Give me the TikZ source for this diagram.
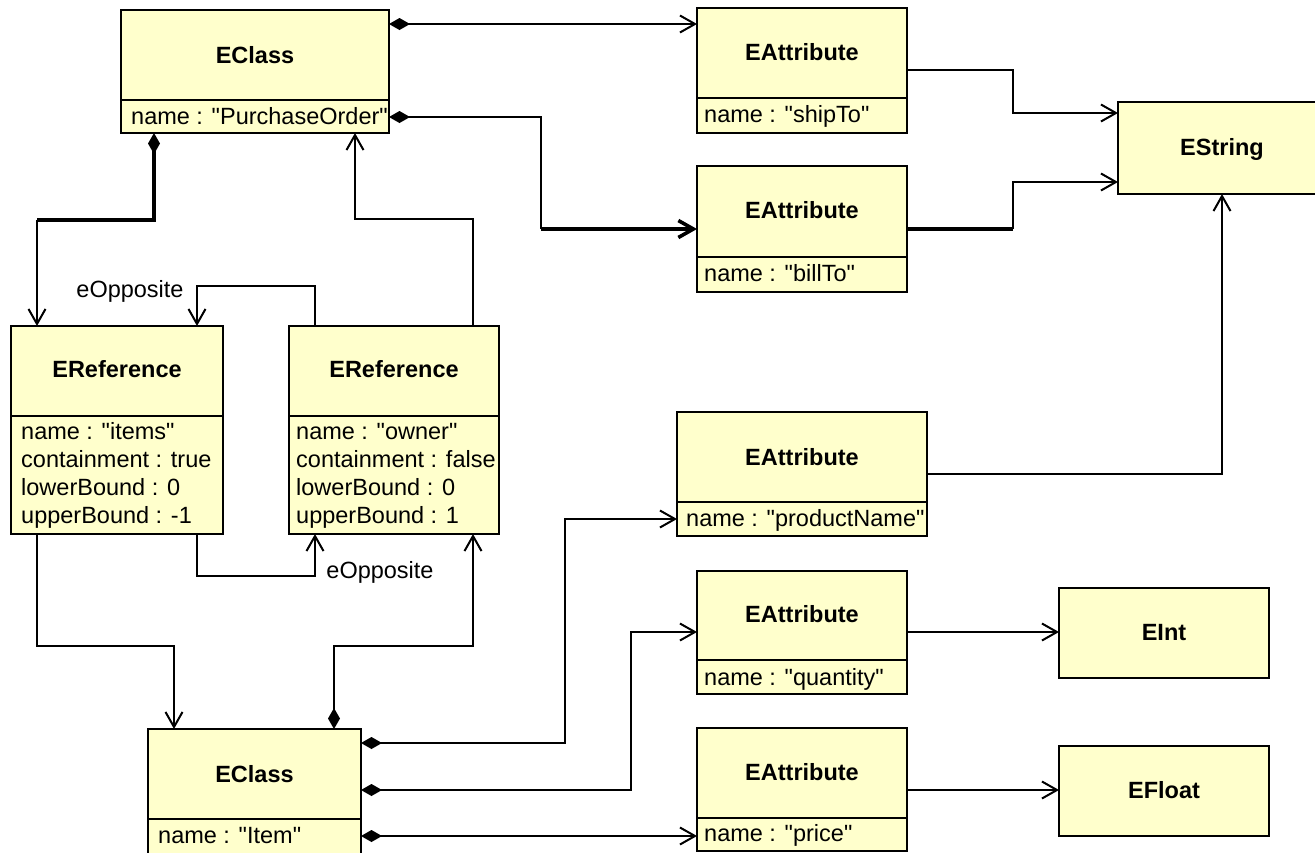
\documentclass[tikz,border=0pt]{standalone}
\usepackage{fontspec}
\setmainfont{Liberation Sans}[Ligatures=TeXOff]
\usetikzlibrary{arrows.meta}
\definecolor{boxfill}{RGB}{255,255,204}
\newcommand\ubox[5]{\node[box, minimum width={#4-#2}, minimum height={#5-#3}] (#1) at (#2,#3) {};}
\newcommand\udiv[2]{\draw[boxline] (#1.west |- 0,#2) -- (#1.east |- 0,#2);}
\begin{document}
\begin{tikzpicture}[x=1pt,y=-1pt,
  box/.style={draw, fill=boxfill, line width=2pt, inner sep=0pt, outer sep=0pt, anchor=north west, rectangle},
  boxline/.style={line width=2pt},
  ttl/.style={font=\bfseries\fontsize{23.5}{28}\selectfont, anchor=base, inner sep=0pt},
  attr/.style={font=\fontsize{23.5}{28}\selectfont, anchor=base west, inner sep=0pt},
  lbl/.style={font=\fontsize{23.5}{28}\selectfont, anchor=base, inner sep=0pt},
  conn/.style={line width=2pt},
  thickconn/.style={line width=3.6pt},
  dia/.style={{Diamond[length=21pt,width=12pt,line width=0pt]}-},
  barb/.style={-{Straight Barb[length=15pt,width=17pt]}},
  diabarb/.style={{Diamond[length=21pt,width=12pt,line width=0pt]}-{Straight Barb[length=15pt,width=17pt]}}]
\useasboundingbox (0,0) rectangle (1315,852);

% boxes
\ubox{po}{121}{10}{389}{133}\udiv{po}{100}
\ubox{shipTo}{697}{8}{907}{133}\udiv{shipTo}{98}
\ubox{billTo}{697}{166}{907}{292}\udiv{billTo}{257}
\ubox{EString}{1118}{102}{1326}{194}
\ubox{items}{11}{326}{223}{534}\udiv{items}{416}
\ubox{owner}{289}{326}{499}{534}\udiv{owner}{416}
\ubox{productName}{677}{412}{927}{536}\udiv{productName}{502}
\ubox{quantity}{697}{571}{907}{694}\udiv{quantity}{660}
\ubox{price}{697}{728}{907}{851}\udiv{price}{818}
\ubox{EInt}{1059}{588}{1269}{678}
\ubox{EFloat}{1059}{746}{1269}{836}
\ubox{item}{148}{729}{361}{856}\udiv{item}{819}

% titles
\node[ttl] (poT) at (255,63.5) {EClass};
\node[ttl] (shipToT) at (802,60.5) {EAttribute};
\node[ttl] (billToT) at (802,218.5) {EAttribute};
\node[ttl] (EStringT) at (1222,155.5) {EString};
\node[ttl] (itemsT) at (117,377.5) {EReference};
\node[ttl] (ownerT) at (394,377.5) {EReference};
\node[ttl] (productNameT) at (802,465.5) {EAttribute};
\node[ttl] (quantityT) at (802,622.5) {EAttribute};
\node[ttl] (priceT) at (802,780.5) {EAttribute};
\node[ttl] (EIntT) at (1164,640.5) {EInt};
\node[ttl] (EFloatT) at (1164,798.5) {EFloat};
\node[ttl] (itemT) at (254.5,782.5) {EClass};

% attributes
\node[attr] (poA) at (131,124) {name : "PurchaseOrder"};
\node[attr] (shipToA) at (704,122) {name : "shipTo"};
\node[attr] (billToA) at (704,281) {name : "billTo"};
\node[attr] (itemsA1) at (21,439) {name : "items"};
\node[attr] (itemsA2) at (21,467) {containment : true};
\node[attr] (itemsA3) at (21,495) {lowerBound : 0};
\node[attr] (itemsA4) at (21,523) {upperBound : -1};
\node[attr] (ownerA1) at (296,439) {name : "owner"};
\node[attr] (ownerA2) at (296,467) {containment : false};
\node[attr] (ownerA3) at (296,495) {lowerBound : 0};
\node[attr] (ownerA4) at (296,523) {upperBound : 1};
\node[attr] (productNameA) at (686,526) {name : "productName"};
\node[attr] (quantityA) at (704,685) {name : "quantity"};
\node[attr] (priceA) at (704,841) {name : "price"};
\node[attr] (itemA) at (158,843) {name : "Item"};

% connectors
\draw[conn,diabarb] (po.east |- 0,24) -- (shipTo.west |- 0,24);
\coordinate (b1) at (541,229);
\draw[conn,dia] (po.east |- 0,117) -| (b1);
\draw[thickconn,barb] (b1) -- (billTo.west |- b1);

\coordinate (c1) at (37,220);
\draw[thickconn,dia] (po.south -| 154,0) |- (c1);
\draw[conn,barb] (c1) -- (items.north -| c1);

\coordinate (d1) at (355,219);
\draw[conn,barb] (owner.north -| 473,0) |- (d1) -- (po.south -| d1);

\draw[conn,barb] (owner.north -| 315,0) |- (197,286) -- (items.north -| 197,0);
\node[lbl] (eo1) at (130,297) {eOpposite};
\draw[conn,barb] (items.south -| 197,0) |- (315,576) -- (owner.south -| 315,0);
\node[lbl] (eo2) at (380,578) {eOpposite};

\draw[conn,barb] (items.south -| 37,0) |- (174,646) -- (item.north -| 174,0);
\draw[conn,diabarb] (item.north -| 334,0) |- (473,646) -- (owner.south -| 473,0);

\draw[conn,diabarb] (item.east |- 0,743) -| (565,519) -- (productName.west |- 0,519);
\draw[conn,diabarb] (item.east |- 0,790) -| (631,632) -- (quantity.west |- 0,632);
\draw[conn,diabarb] (item.east |- 0,836) -- (price.west |- 0,836);

\draw[conn,barb] (shipTo.east |- 0,70) -| (1013,113) -- (EString.west |- 0,113);
\coordinate (m1) at (1013,229);
\draw[thickconn] (billTo.east |- m1) -- (m1);
\draw[conn,barb] (m1) |- (EString.west |- 0,182);
\draw[conn,barb] (productName.east |- 0,474) -| (EString.south);
\draw[conn,barb] (quantity.east |- 0,632) -- (EInt.west |- 0,632);
\draw[conn,barb] (price.east |- 0,790) -- (EFloat.west |- 0,790);
\end{tikzpicture}
\end{document}
